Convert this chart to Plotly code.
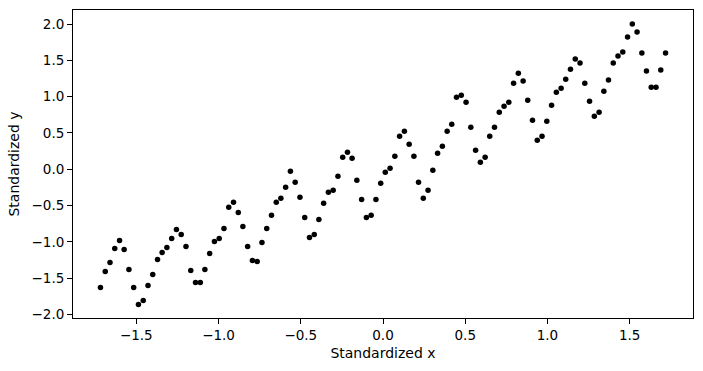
import plotly.graph_objects as go

x_vals = [
    -1.718, -1.689, -1.660, -1.631, -1.602, -1.574, -1.545, -1.516, -1.487, -1.458,
    -1.429, -1.400, -1.371, -1.343, -1.314, -1.285, -1.256, -1.227, -1.198, -1.169,
    -1.140, -1.111, -1.083, -1.054, -1.025, -0.996, -0.967, -0.938, -0.909, -0.880,
    -0.852, -0.823, -0.794, -0.765, -0.736, -0.707, -0.678, -0.649, -0.621, -0.592,
    -0.563, -0.534, -0.505, -0.476, -0.447, -0.418, -0.390, -0.361, -0.332, -0.303,
    -0.274, -0.245, -0.216, -0.188, -0.159, -0.130, -0.101, -0.072, -0.043, -0.014,
    0.014, 0.043, 0.072, 0.101, 0.130, 0.159, 0.188, 0.216, 0.245, 0.274,
    0.303, 0.332, 0.361, 0.390, 0.418, 0.447, 0.476, 0.505, 0.534, 0.563,
    0.592, 0.621, 0.649, 0.678, 0.707, 0.736, 0.765, 0.794, 0.823, 0.852,
    0.880, 0.909, 0.938, 0.967, 0.996, 1.025, 1.054, 1.083, 1.111, 1.140,
    1.169, 1.198, 1.227, 1.256, 1.285, 1.314, 1.343, 1.371, 1.400, 1.429,
    1.458, 1.487, 1.516, 1.545, 1.574, 1.602, 1.631, 1.660, 1.689, 1.718,
]

y_vals = [
    -1.628, -1.407, -1.283, -1.090, -0.979, -1.103, -1.379, -1.628, -1.862, -1.807,
    -1.600, -1.448, -1.241, -1.145, -1.076, -0.952, -0.828, -0.897, -1.062, -1.393,
    -1.559, -1.559, -1.379, -1.159, -0.993, -0.952, -0.814, -0.524, -0.455, -0.593,
    -0.786, -1.062, -1.255, -1.269, -1.007, -0.814, -0.634, -0.455, -0.400, -0.248,
    -0.028, -0.179, -0.386, -0.662, -0.938, -0.897, -0.690, -0.469, -0.317, -0.290,
    -0.097, 0.166, 0.234, 0.152, -0.152, -0.414, -0.662, -0.634, -0.414, -0.193,
    -0.041, 0.014, 0.179, 0.455, 0.524, 0.345, 0.179, -0.179, -0.400, -0.290,
    -0.014, 0.221, 0.317, 0.524, 0.621, 0.993, 1.021, 0.924, 0.579, 0.262,
    0.097, 0.166, 0.455, 0.579, 0.786, 0.869, 0.924, 1.186, 1.324, 1.214,
    0.952, 0.676, 0.400, 0.455, 0.662, 0.883, 1.062, 1.117, 1.241, 1.379,
    1.517, 1.462, 1.186, 0.938, 0.731, 0.786, 1.076, 1.228, 1.462, 1.559,
    1.614, 1.821, 2.000, 1.890, 1.600, 1.352, 1.131, 1.131, 1.366, 1.600,
]

x_ticks = [-1.5, -1.0, -0.5, 0.0, 0.5, 1.0, 1.5]
y_ticks = [-2.0, -1.5, -1.0, -0.5, 0.0, 0.5, 1.0, 1.5, 2.0]

fig = go.Figure()
fig.add_trace(go.Scatter(
    x=x_vals, y=y_vals, mode="markers",
    marker=dict(color="black", size=5.5, line=dict(width=0)),
    showlegend=False,
))

axis_common = dict(
    showline=True, mirror=True, linecolor="black", linewidth=1,
    ticks="outside", ticklen=5, tickwidth=1, tickcolor="black",
    showgrid=False, zeroline=False, tickformat=".1f",
    tickfont=dict(family="DejaVu Sans", size=13.5, color="black"),
)

fig.update_layout(
    width=703, height=371,
    margin=dict(l=73, r=10, t=10, b=53),
    paper_bgcolor="white", plot_bgcolor="white",
    font=dict(family="DejaVu Sans", size=14, color="black"),
    xaxis=dict(range=[-1.885, 1.885], tickvals=x_ticks,
               title=dict(text="Standardized x", standoff=5,
                          font=dict(family="DejaVu Sans", size=14)),
               **axis_common),
    yaxis=dict(range=[-2.047, 2.193], tickvals=y_ticks,
               title=dict(text="Standardized y", standoff=8,
                          font=dict(family="DejaVu Sans", size=14)),
               **axis_common),
)

fig.write_html("out.html")
